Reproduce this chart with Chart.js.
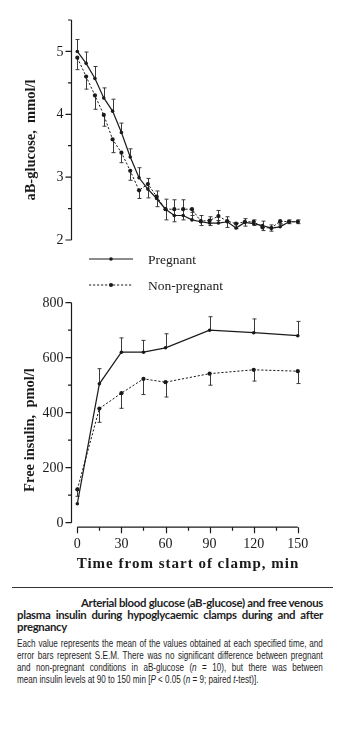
<!DOCTYPE html>
<html>
<head>
<meta charset="utf-8">
<script src="https://cdn.jsdelivr.net/npm/chart.js@4.4.1/dist/chart.umd.min.js"></script>
<style>
  html, body { margin: 0; padding: 0; background: #ffffff; }
  body { width: 340px; height: 730px; position: relative; overflow: hidden; }
  canvas { position: absolute; left: 0; }
  #glucoseChart { top: 0; }
  #insulinChart { top: 290px; }
  #legend { position: absolute; left: 0; top: 245px; width: 340px; height: 50px; }
  #rule { position: absolute; left: 12px; top: 587px; width: 321px; height: 0; border-top: 1.2px solid #333; }
  .cap { position: absolute; left: 17px; width: 306px; color: #1e1e1e; }
  .head { font-family: Lato, "Open Sans", sans-serif; font-weight: bold; font-size: 11.4px; letter-spacing: -0.32px; line-height: 12px; height: 12px; white-space: nowrap; }
  .desc { font-family: "Liberation Sans", Arimo, sans-serif; font-size: 11px; line-height: 12px; height: 12px; white-space: nowrap;
          width: 415px; transform: scaleX(0.737); transform-origin: 0 0; text-align: justify; text-align-last: justify; }
  .just { text-align: justify; text-align-last: justify; }
</style>
</head>
<body>
<canvas id="glucoseChart" width="340" height="250"></canvas>
<canvas id="insulinChart" width="340" height="290"></canvas>

<svg id="legend" width="340" height="50" xmlns="http://www.w3.org/2000/svg">
  <line x1="89" y1="14" x2="133" y2="14" stroke="#1a1a1a" stroke-width="1.2"/>
  <circle cx="111" cy="14" r="1.8" fill="#1a1a1a"/>
  <text x="148" y="18.5" font-family="Liberation Serif, serif" font-size="13.5" fill="#1a1a1a">Pregnant</text>
  <line x1="89" y1="40" x2="133" y2="40" stroke="#1a1a1a" stroke-width="1" stroke-dasharray="2.2 1.8"/>
  <circle cx="111" cy="40" r="2.1" fill="#1a1a1a"/>
  <text x="148" y="44.5" font-family="Liberation Serif, serif" font-size="13.5" fill="#1a1a1a">Non-pregnant</text>
</svg>

<div id="rule"></div>
<div class="cap head" style="top:597px; text-align:right;">Arterial blood glucose (aB-glucose) and free venous</div>
<div class="cap head just" style="top:609px;">plasma insulin during hypoglycaemic clamps during and after</div>
<div class="cap head" style="top:621px;">pregnancy</div>
<div class="cap desc" style="top:637px;">Each value represents the mean of the values obtained at each specified time, and</div>
<div class="cap desc" style="top:649px;">error bars represent S.E.M. There was no significant difference between pregnant</div>
<div class="cap desc" style="top:661px;">and non-pregnant conditions in aB-glucose (<i>n</i> = 10), but there was between</div>
<div class="cap desc" style="top:673px; width:auto;">mean insulin levels at 90 to 150 min [<i>P</i> &lt; 0.05 (<i>n</i> = 9; paired <i>t</i>-test)].</div>

<script>
// Arterial blood glucose, sampled every 6 min during the clamp (mmol/l)
const glucoseTimes = [0, 6, 12, 18, 24, 30, 36, 42, 48, 54, 60, 66, 72, 78, 84, 90, 96, 102, 108, 114, 120, 126, 132, 138, 144, 150];
const glucosePregnant = [5.00, 4.81, 4.57, 4.26, 4.05, 3.71, 3.32, 2.99, 2.81, 2.66, 2.49, 2.39, 2.39, 2.32, 2.29, 2.27, 2.27, 2.29, 2.19, 2.28, 2.26, 2.23, 2.19, 2.21, 2.29, 2.29];
const glucoseNonPregnant = [4.90, 4.60, 4.30, 3.99, 3.60, 3.39, 3.10, 2.79, 2.89, 2.69, 2.49, 2.49, 2.49, 2.49, 2.30, 2.31, 2.38, 2.30, 2.26, 2.29, 2.29, 2.20, 2.19, 2.30, 2.29, 2.29];
const glucosePregnantSem = [0.19, 0.18, 0.19, 0.16, 0.19, 0.15, 0.13, 0.16, 0.17, 0.12, 0.16, 0.25, 0.25, 0.12, 0.10, 0.10, 0.20, 0.08, 0.07, 0.06, 0.06, 0.07, 0.05, 0.04, 0.03, 0.03];
const glucoseNonPregnantSem = [0.19, 0.20, 0.22, 0.18, 0.21, 0.16, 0.15, 0.13, 0.22, 0.16, 0.17, 0.20, 0.17, 0.10, 0.07, 0.08, 0.07, 0.10, 0.08, 0.07, 0.06, 0.05, 0.05, 0.04, 0.03, 0.03];

// Free venous plasma insulin (pmol/l)
const insulinTimes = [0, 15, 30, 45, 60, 90, 120, 150];
const insulinPregnant = [69, 505, 620, 620, 636, 700, 691, 680];
const insulinNonPregnant = [121, 415, 471, 523, 511, 542, 556, 551];
const insulinPregnantSem = [0, 55, 52, 43, 51, 49, 50, 52];
const insulinNonPregnantSem = [25, 50, 55, 57, 54, 42, 41, 45];

// Axis ticks
const glucoseTicks = [2, 3, 4, 5];
const glucoseMinorTicks = [2.5, 3.5, 4.5, 5.5];
const insulinTicks = [0, 200, 400, 600, 800];
const insulinMinorTicks = [100, 300, 500, 700];
const timeTicks = [0, 30, 60, 90, 120, 150];
const timeMinorTicks = [15, 45, 75, 105, 135];

const INK = '#1a1a1a';
const SERIF = '"Liberation Serif", "Times New Roman", serif';

function toPoints(xs, ys) { return xs.map((x, i) => ({ x: x, y: ys[i] })); }

function solidSeries(label, xs, ys, sem) {
  return { label, data: toPoints(xs, ys), sem, semDir: 1,
    borderColor: INK, backgroundColor: INK, borderWidth: 1.2,
    pointRadius: 1.8, pointBackgroundColor: INK, pointBorderWidth: 0, tension: 0 };
}
function dashedSeries(label, xs, ys, sem) {
  return { label, data: toPoints(xs, ys), sem, semDir: -1,
    borderColor: INK, backgroundColor: INK, borderWidth: 1, borderDash: [2.2, 1.8],
    pointRadius: 2.1, pointBackgroundColor: INK, pointBorderWidth: 0, tension: 0 };
}

// S.E.M. bars: pregnant upwards, non-pregnant downwards
const errorBars = {
  id: 'errorBars',
  beforeDatasetsDraw(chart) {
    const ctx = chart.ctx, ys = chart.scales.y, xs = chart.scales.x;
    ctx.save();
    ctx.strokeStyle = '#3a3a3a';
    ctx.lineWidth = 1;
    chart.data.datasets.forEach(ds => {
      ds.data.forEach((p, i) => {
        const e = ds.sem[i];
        if (!e) return;
        const px = Math.round(xs.getPixelForValue(p.x)) + 0.5;
        const y0 = ys.getPixelForValue(p.y);
        const y1 = ys.getPixelForValue(p.y + ds.semDir * e);
        ctx.beginPath();
        ctx.moveTo(px, y0); ctx.lineTo(px, y1);
        ctx.moveTo(px - 2, y1); ctx.lineTo(px + 2, y1);
        ctx.stroke();
      });
    });
    ctx.restore();
  }
};

// Axis lines, ticks, labels and titles
function axesPlugin(cfg) {
  return {
    id: 'axes',
    afterDraw(chart) {
      const ctx = chart.ctx, ys = chart.scales.y, xs = chart.scales.x;
      const ax = chart.chartArea.left + 0.5;
      ctx.save();
      ctx.strokeStyle = INK; ctx.fillStyle = INK; ctx.lineWidth = 1.2;
      // y axis
      ctx.beginPath();
      ctx.moveTo(ax, ys.getPixelForValue(cfg.yMin));
      ctx.lineTo(ax, ys.getPixelForValue(cfg.yTop));
      cfg.yTicks.forEach(v => { const y = ys.getPixelForValue(v); ctx.moveTo(ax, y); ctx.lineTo(ax - 6, y); });
      cfg.yMinor.forEach(v => { const y = ys.getPixelForValue(v); ctx.moveTo(ax, y); ctx.lineTo(ax - 3.5, y); });
      ctx.stroke();
      ctx.font = '14px ' + SERIF;
      ctx.textAlign = 'right'; ctx.textBaseline = 'middle';
      cfg.yTicks.forEach(v => ctx.fillText(String(v), ax - 8, ys.getPixelForValue(v) + 0.5));
      // y title
      ctx.save();
      ctx.translate(cfg.yTitleX, cfg.yTitleY);
      ctx.rotate(-Math.PI / 2);
      ctx.font = 'bold 14.5px ' + SERIF;
      ctx.textAlign = 'center'; ctx.textBaseline = 'middle';
      ctx.fillText(cfg.yTitle, 0, 0);
      ctx.restore();
      // x axis
      if (cfg.xTicks) {
        const xy = ys.getPixelForValue(cfg.yMin) + 4.5;
        ctx.beginPath();
        ctx.moveTo(xs.getPixelForValue(cfg.xTicks[0]), xy);
        ctx.lineTo(xs.getPixelForValue(cfg.xTicks[cfg.xTicks.length - 1]), xy);
        cfg.xTicks.forEach(v => { const x = Math.round(xs.getPixelForValue(v)) + 0.5; ctx.moveTo(x, xy); ctx.lineTo(x, xy + 6); });
        cfg.xMinor.forEach(v => { const x = Math.round(xs.getPixelForValue(v)) + 0.5; ctx.moveTo(x, xy); ctx.lineTo(x, xy + 3.5); });
        ctx.stroke();
        ctx.font = '14px ' + SERIF;
        ctx.textAlign = 'center'; ctx.textBaseline = 'middle';
        cfg.xTicks.forEach(v => ctx.fillText(String(v), xs.getPixelForValue(v), xy + 17));
        ctx.font = 'bold 15px ' + SERIF;
        if ('letterSpacing' in ctx) ctx.letterSpacing = '1px';
        ctx.fillText(cfg.xTitle, cfg.xTitleX, xy + 37);
      }
      ctx.restore();
    }
  };
}

function makeChart(id, datasets, yMin, yMax, pad, axesCfg) {
  return new Chart(document.getElementById(id), {
    type: 'line',
    data: { datasets },
    options: {
      responsive: false, animation: false, devicePixelRatio: 1,
      layout: { padding: pad },
      clip: false,
      scales: {
        x: { type: 'linear', min: -4.3, max: 158.3, display: false },
        y: { type: 'linear', min: yMin, max: yMax, display: false }
      },
      plugins: { legend: { display: false }, tooltip: { enabled: false } }
    },
    plugins: [errorBars, axesPlugin(axesCfg)]
  });
}

makeChart('glucoseChart', [
  solidSeries('Pregnant', glucoseTimes, glucosePregnant, glucosePregnantSem),
  dashedSeries('Non-pregnant', glucoseTimes, glucoseNonPregnant, glucoseNonPregnantSem)
], 2, 5.5, { left: 71, right: 30, top: 20, bottom: 10 }, {
  yMin: 2, yTop: 5.5, yTicks: glucoseTicks, yMinor: glucoseMinorTicks,
  yTitle: 'aB-glucose,  mmol/l', yTitleX: 31, yTitleY: 140
});

makeChart('insulinChart', [
  solidSeries('Pregnant', insulinTimes, insulinPregnant, insulinPregnantSem),
  dashedSeries('Non-pregnant', insulinTimes, insulinNonPregnant, insulinNonPregnantSem)
], 0, 800, { left: 71, right: 30, top: 12.7, bottom: 57.3 }, {
  yMin: 0, yTop: 800, yTicks: insulinTicks, yMinor: insulinMinorTicks,
  yTitle: 'Free insulin,  pmol/l', yTitleX: 30, yTitleY: 140,
  xTicks: timeTicks, xMinor: timeMinorTicks,
  xTitle: 'Time from start of clamp, min', xTitleX: 188
});
</script>
</body>
</html>
